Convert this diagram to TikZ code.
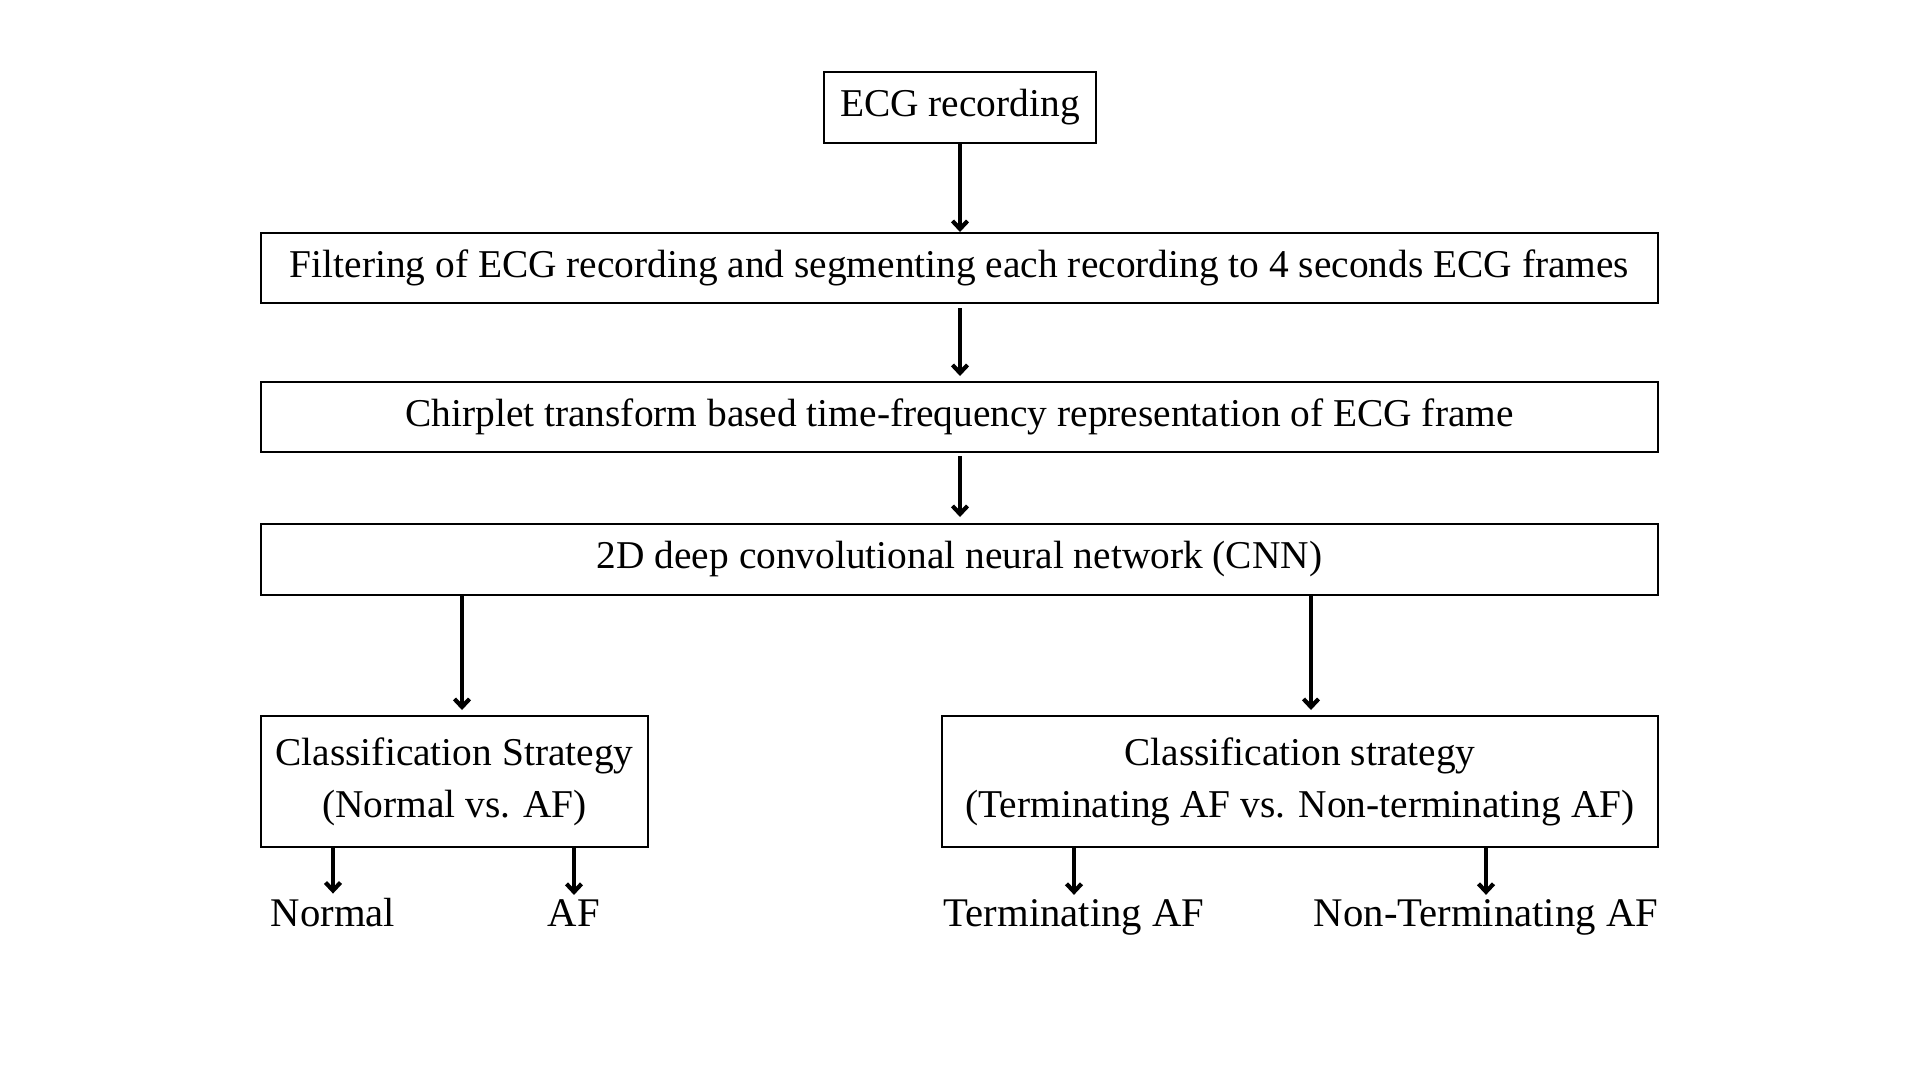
\documentclass[tikz,border=0pt]{standalone}
\usepackage{fontspec}
\setmainfont{Liberation Serif}
\usetikzlibrary{arrows.meta,calc}
\begin{document}
\begin{tikzpicture}[x=1pt,y=-1pt,
  txt/.style={font=\fontsize{39.4}{52}\selectfont},
  box/.style={txt, draw, line width=2pt, inner sep=0pt, align=center},
  lbl/.style={font=\fontsize{40.7}{52}\selectfont, inner sep=0pt, anchor=base},
  arr/.style={line width=4.2pt, -{Straight Barb[length=8pt,width=15pt]}}]
\useasboundingbox[fill=white] (0,0) rectangle (1920,1080);
% boxes
\node[box, minimum width=272, minimum height=71] (ecg) at (960,107.5) {ECG recording};
\node[box, minimum width=1397, minimum height=70] (filt) at (959.5,268) {Filtering of ECG recording and segmenting each recording to 4 seconds ECG frames};
\node[box, minimum width=1397, minimum height=70] (chirp) at (959.5,417) {Chirplet transform based time-frequency representation of ECG frame};
\node[box, minimum width=1397, minimum height=71] (cnn) at (959.5,559.5) {2D deep convolutional neural network (CNN)};
\node[box, minimum width=387, minimum height=131] (lc) at (454.5,781.5) {Classification Strategy\\(Normal vs. AF)};
\node[box, minimum width=716, minimum height=131] (rc) at (1300,781.5) {Classification strategy\\(Terminating AF vs. Non-terminating AF)};
% output labels
\node[lbl] (normal) at (333,926) {Normal};
\node[lbl] (af) at (574,926) {AF};
\node[lbl] (term) at (1074,926) {Terminating AF};
\node[lbl] (nterm) at (1486,926) {Non-Terminating AF};
% connector x positions
\coordinate (xl) at (462,0);
\coordinate (xr) at (1311,0);
\coordinate (xm) at (960,0);
% arrows
\draw[arr] (ecg.south) -- (ecg.south |- filt.north);
\draw[arr, shorten <=4pt, shorten >=5pt] (filt.south -| xm) -- (chirp.north -| xm);
\draw[arr, shorten <=3pt, shorten >=6pt] (chirp.south -| xm) -- (cnn.north -| xm);
\draw[arr, shorten >=5pt] (cnn.south -| xl) -- (lc.north -| xl);
\draw[arr, shorten >=5pt] (cnn.south -| xr) -- (rc.north -| xr);
\draw[arr, shorten >=4pt] (lc.south -| normal.north) -- (normal.north);
\draw[arr, shorten >=4pt] (lc.south -| af.north) -- (af.north);
\draw[arr, shorten >=4pt] (rc.south -| term.north) -- (term.north);
\draw[arr, shorten >=4pt] (rc.south -| nterm.north) -- (nterm.north);
\end{tikzpicture}
\end{document}
